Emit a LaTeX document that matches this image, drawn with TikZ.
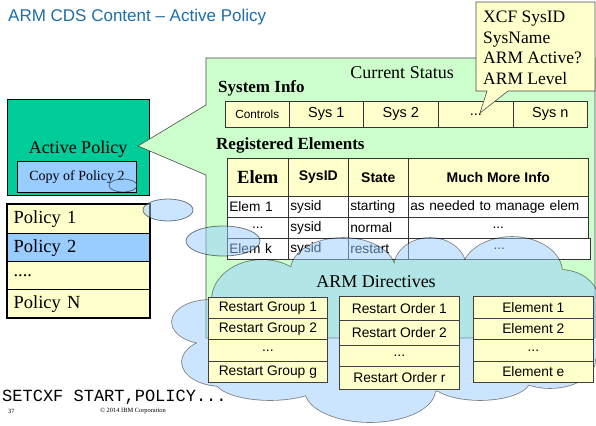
\documentclass[tikz,border=0pt]{standalone}
\usepackage{fontspec}
\setmainfont{Liberation Serif}
\setsansfont{Liberation Sans}
\setmonofont{Liberation Mono}
\newcommand\myfs[1]{\fontsize{#1}{#1}\selectfont}
\definecolor{titleblue}{RGB}{30,110,170}
\definecolor{lgreen}{RGB}{204,255,204}
\definecolor{lyellow}{RGB}{255,255,204}
\definecolor{lblue}{RGB}{153,204,255}
\definecolor{apgreen}{RGB}{0,204,153}
\tikzset{
  cellbox/.style={draw=black!80, line width=0.6pt, inner sep=0pt, anchor=north west},
  syscell/.style={cellbox, fill=lyellow, minimum height=26pt, font=\sffamily\myfs{14.5}},
  hdrcell/.style={cellbox, fill=lyellow, minimum height=38pt, font=\sffamily\bfseries\myfs{14}},
  datcell/.style={cellbox, fill=white, minimum height=21pt, font=\sffamily\myfs{13.7}, inner xsep=2pt, align=left},
  polcell/.style={draw=black, line width=1.2pt, inner sep=0pt, anchor=north west, minimum width=142pt, inner xsep=6pt, align=left, font=\myfs{18.5}},
  dircell/.style={draw=black!75, line width=0.7pt, fill=lyellow, inner sep=0pt, anchor=north west, minimum width=119pt, font=\sffamily\myfs{13.8}},
  blob/.style={draw=black, draw opacity=0.5, fill=lblue, fill opacity=0.5, line width=0.8pt},
  txt/.style={inner sep=0pt}
}
\begin{document}
\begin{tikzpicture}[x=1pt,y=-1pt]
\useasboundingbox (0,0) rectangle (596,425);
\fill[white] (0,0) rectangle (596,425);

% title
\node[txt, anchor=west, font=\sffamily\myfs{17}, text=titleblue] (title) at (8,17) {ARM CDS Content – Active Policy};

% active policy box
\node[draw=black, fill=apgreen, line width=0.8pt, minimum width=142pt, minimum height=96pt, anchor=north west, inner sep=0pt] (ap) at (7,99) {};
\node[txt, font=\myfs{18}] (aptext) at (78,149) {Active Policy};
\node[draw=black, line width=0.8pt, fill=lblue, minimum width=119pt, minimum height=31pt, anchor=north west, inner sep=0pt, font=\myfs{14}] (copy) at (17,161) {Copy of Policy 2};

% current status callout
\draw[draw=black!70, fill=lgreen, line width=0.6pt] (206,58) -- (595,58) -- (595,338) -- (206,338) -- (206,175) -- (138,146) -- (206,105) -- cycle;
\node[txt, font=\myfs{18}] (cs) at (402,73) {Current Status};
\node[txt, anchor=west, font=\bfseries\myfs{17}] (si) at (218,88) {System Info};

\node[syscell, minimum width=64pt, font=\sffamily\myfs{11.8}] (ctl) at (225,101) {Controls};
\node[syscell, minimum width=74pt] (s1) at (289,101) {Sys 1};
\node[syscell, minimum width=75pt] (s2) at (363,101) {Sys 2};
\node[syscell, minimum width=75pt] (sd) at (438,101) {...};
\node[syscell, minimum width=74pt] (sn) at (513,101) {Sys n};

% XCF callout
\draw[draw=black!70, fill=lyellow, line width=0.6pt] (476,2) -- (595,2) -- (595,91) -- (508,91) -- (480,113) -- (487,91) -- (476,91) -- cycle;
\node[txt, anchor=base west, font=\myfs{17.5}] (x1) at (483,23) {XCF SysID};
\node[txt, anchor=base west, font=\myfs{17.5}] (x2) at (483,43.5) {SysName};
\node[txt, anchor=base west, font=\myfs{17.5}] (x3) at (483,64) {ARM Active?};
\node[txt, anchor=base west, font=\myfs{17.5}] (x4) at (483,84.5) {ARM Level};

% registered elements
\node[txt, anchor=west, font=\bfseries\myfs{17}] (re) at (216,145) {Registered Elements};
\node[hdrcell, minimum width=61pt, font=\bfseries\myfs{18.6}] (h1) at (227,158) {Elem};
\node[hdrcell, minimum width=60pt] (h2) at (288,158) {SysID};
\node[hdrcell, minimum width=60pt] (h3) at (348,158) {State};
\node[hdrcell, minimum width=180pt] (h4) at (408,158) {Much More Info};

\node[datcell, minimum width=61pt, text width=57pt] (r1a) at (227,196) {Elem 1};
\node[datcell, minimum width=60pt, text width=56pt] (r1b) at (288,196) {sysid};
\node[datcell, minimum width=60pt, text width=56pt] (r1c) at (348,196) {starting};
\node[datcell, minimum width=180pt, text width=176pt] (r1d) at (408,196) {as needed to manage elem};

\node[datcell, minimum width=61pt, align=center] (r2a) at (227,217) {...};
\node[datcell, minimum width=60pt, text width=56pt] (r2b) at (288,217) {sysid};
\node[datcell, minimum width=60pt, text width=56pt] (r2c) at (348,217) {normal};
\node[datcell, minimum width=180pt, align=center] (r2d) at (408,217) {...};

\node[datcell, minimum width=61pt, text width=57pt] (r3a) at (227,238) {Elem k};
\node[datcell, minimum width=60pt, text width=56pt] (r3b) at (288,238) {sysid};
\node[datcell, minimum width=60pt, text width=56pt] (r3c) at (348,238) {restart};
\node[datcell, minimum width=182pt, align=center] (r3d) at (408,238) {...};

% policy list
\node[polcell, fill=lyellow, minimum height=29pt, text width=130pt] (p1) at (7,204) {Policy 1};
\node[polcell, fill=lblue, minimum height=28pt, text width=130pt] (p2) at (7,233) {Policy 2};
\node[polcell, fill=lyellow, minimum height=28pt, text width=130pt] (p3) at (7,261) {....};
\node[polcell, fill=lyellow, minimum height=28pt, text width=130pt] (pn) at (7,289) {Policy N};
\draw[line width=2.2pt] (p1.north west) rectangle (pn.south east);

% small ellipses
\draw[blob] (123,185.5) ellipse [x radius=14pt, y radius=6.5pt];
\draw[blob] (168,210) ellipse [x radius=25pt, y radius=11pt];
\draw[blob] (223,241) ellipse [x radius=37pt, y radius=15pt];

% cloud
\begin{scope}[transparency group, opacity=0.5]
  \foreach \cx/\cy/\rx/\ry in {400/330/180/62, 262/300/50/40, 343/270/52/32, 430/268/36/30, 512/272/50/35, 560/300/38/30, 210/322/38/22, 222/362/40/24, 270/380/55/20, 370/390/65/32, 480/380/50/20, 550/360/45/28, 578/330/25/40}
    {\draw[black, line width=1.6pt] (\cx,\cy) ellipse [x radius=\rx pt, y radius=\ry pt];}
  \foreach \cx/\cy/\rx/\ry in {400/330/180/62, 262/300/50/40, 343/270/52/32, 430/268/36/30, 512/272/50/35, 560/300/38/30, 210/322/38/22, 222/362/40/24, 270/380/55/20, 370/390/65/32, 480/380/50/20, 550/360/45/28, 578/330/25/40}
    {\fill[lblue] (\cx,\cy) ellipse [x radius=\rx pt, y radius=\ry pt];}
\end{scope}
\node[txt, font=\myfs{18}] (ad) at (376,282) {ARM Directives};

% directive lists
\node[dircell, minimum height=21pt] (g1) at (208,297) {Restart Group 1};
\node[dircell, minimum height=21pt] (g2) at (208,318) {Restart Group 2};
\node[dircell, minimum height=22pt] (g3) at (208,339) {...};
\node[dircell, minimum height=21pt] (g4) at (208,361) {Restart Group g};

\node[dircell, minimum width=120pt, minimum height=24pt] (o1) at (339,296) {Restart Order 1};
\node[dircell, minimum width=120pt, minimum height=25pt] (o2) at (339,320) {Restart Order 2};
\node[dircell, minimum width=120pt, minimum height=21pt] (o3) at (339,345) {...};
\node[dircell, minimum width=120pt, minimum height=23pt] (o4) at (339,366) {Restart Order r};

\node[dircell, minimum width=120pt, minimum height=22pt] (e1) at (473,296) {Element 1};
\node[dircell, minimum width=120pt, minimum height=21pt] (e2) at (473,318) {Element 2};
\node[dircell, minimum width=120pt, minimum height=22pt] (e3) at (473,339) {...};
\node[dircell, minimum width=120pt, minimum height=21pt] (e4) at (473,361) {Element e};

% bottom texts
\node[txt, anchor=west, font=\ttfamily\myfs{17}] (cmd) at (2,397) {SETCXF START,POLICY...};
\node[txt, anchor=west, font=\myfs{6.4}] (pg) at (8,411) {37};
\node[txt, font=\myfs{6.4}] (copyr) at (133,411) {© 2014 IBM Corporation};
\end{tikzpicture}
\end{document}
